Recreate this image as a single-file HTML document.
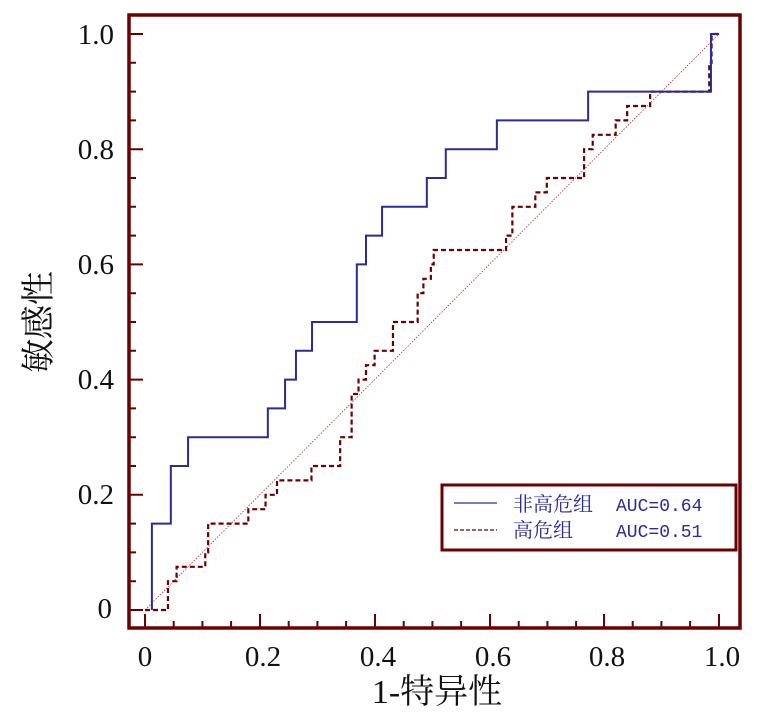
<!DOCTYPE html>
<html><head><meta charset="utf-8"><style>
html,body{margin:0;padding:0;background:#fff;}
svg{display:block;}
.t{font-family:"Liberation Serif","Noto Serif CJK SC",serif;fill:#111;}
</style></head><body>
<svg width="761" height="719" viewBox="0 0 761 719" xmlns="http://www.w3.org/2000/svg">
<rect x="0" y="0" width="761" height="719" fill="#fff"/>
<line x1="145" y1="610" x2="719" y2="34" stroke="#b03030" stroke-width="0.8" stroke-dasharray="1.5,1.5"/>
<g transform="translate(145,610) scale(574,-576)" fill="none">
<path vector-effect="non-scaling-stroke" stroke="#6b0000" stroke-width="2.2" stroke-dasharray="5,3"
d="M0,0 H0.04 V0.05 H0.055 V0.075 H0.105 V0.1 H0.11 V0.15 H0.18 V0.175 H0.21 V0.2 H0.23 V0.225 H0.29 V0.25 H0.34 V0.3 H0.36 V0.375 H0.372 V0.4 H0.385 V0.425 H0.4 V0.45 H0.432 V0.5 H0.475 V0.55 H0.485 V0.575 H0.498 V0.6 H0.503 V0.625 H0.629 V0.65 H0.64 V0.7 H0.68 V0.725 H0.7 V0.75 H0.765 V0.8 H0.78 V0.825 H0.82 V0.85 H0.84 V0.875 H0.88 V0.9 H0.983 V0.95 H0.987 V1 H1"/>
<path vector-effect="non-scaling-stroke" stroke="#2a2a9a" stroke-width="2"
d="M0.012,0 V0.15 H0.045 V0.25 H0.075 V0.3 H0.214 V0.35 H0.244 V0.4 H0.263 V0.45 H0.291 V0.5 H0.369 V0.6 H0.385 V0.65 H0.413 V0.7 H0.491 V0.75 H0.524 V0.8 H0.613 V0.85 H0.772 V0.9 H0.986 V1 H1"/>
</g>
<g stroke="#6b0000" stroke-width="2">
<path d="M145,628v-14M260,628v-14M375,628v-14M490,628v-14M604,628v-14M719,628v-14"/>
<path d="M173.7,628v-7M202.4,628v-7M231.1,628v-7M288.7,628v-7M317.4,628v-7M346.1,628v-7M403.7,628v-7M432.4,628v-7M461.1,628v-7M518.7,628v-7M547.4,628v-7M576.1,628v-7M632.7,628v-7M661.4,628v-7M690.1,628v-7"/>
<path d="M129,610h14M129,494.8h14M129,379.6h14M129,264.4h14M129,149.2h14M129,34h14"/>
<path d="M129,581.2h7M129,552.4h7M129,523.6h7M129,466h7M129,437.2h7M129,408.4h7M129,350.8h7M129,322h7M129,293.2h7M129,235.6h7M129,206.8h7M129,178h7M129,120.4h7M129,91.6h7M129,62.8h7"/>
</g>
<rect x="129" y="15" width="611" height="613" fill="none" stroke="#6b0000" stroke-width="3.5"/>
<g class="t" font-size="29" text-anchor="end">
<text x="114" y="44">1.0</text>
<text x="114" y="159">0.8</text>
<text x="114" y="274">0.6</text>
<text x="114" y="389">0.4</text>
<text x="114" y="504">0.2</text>
<text x="112" y="618">0</text>
</g>
<g class="t" font-size="29" text-anchor="middle">
<text x="145" y="666">0</text>
<text x="263" y="666">0.2</text>
<text x="378" y="666">0.4</text>
<text x="493" y="666">0.6</text>
<text x="607" y="666">0.8</text>
<text x="722" y="666">1.0</text>
</g>
<text class="t" x="437" y="703" font-size="34" text-anchor="middle">1-特异性</text>
<text class="t" transform="translate(50,322) rotate(-90)" font-size="34" text-anchor="middle">敏感性</text>
<rect x="442" y="485" width="294" height="65" fill="#fff" stroke="#6b0000" stroke-width="3"/>
<line x1="454" y1="503" x2="497" y2="503" stroke="#2a2a9a" stroke-width="1.2"/>
<line x1="454" y1="530" x2="497" y2="530" stroke="#6b0000" stroke-width="1.2" stroke-dasharray="4,2"/>
<g font-size="20" fill="#2a2a9a">
<text x="513" y="511" font-family="'Noto Serif CJK SC',serif">非高危组</text>
<text x="513" y="537" font-family="'Noto Serif CJK SC',serif">高危组</text>
<text x="616" y="511" font-family="'Liberation Mono',monospace" font-size="18">AUC=0.64</text>
<text x="616" y="537" font-family="'Liberation Mono',monospace" font-size="18">AUC=0.51</text>
</g>
</svg>
</body></html>
